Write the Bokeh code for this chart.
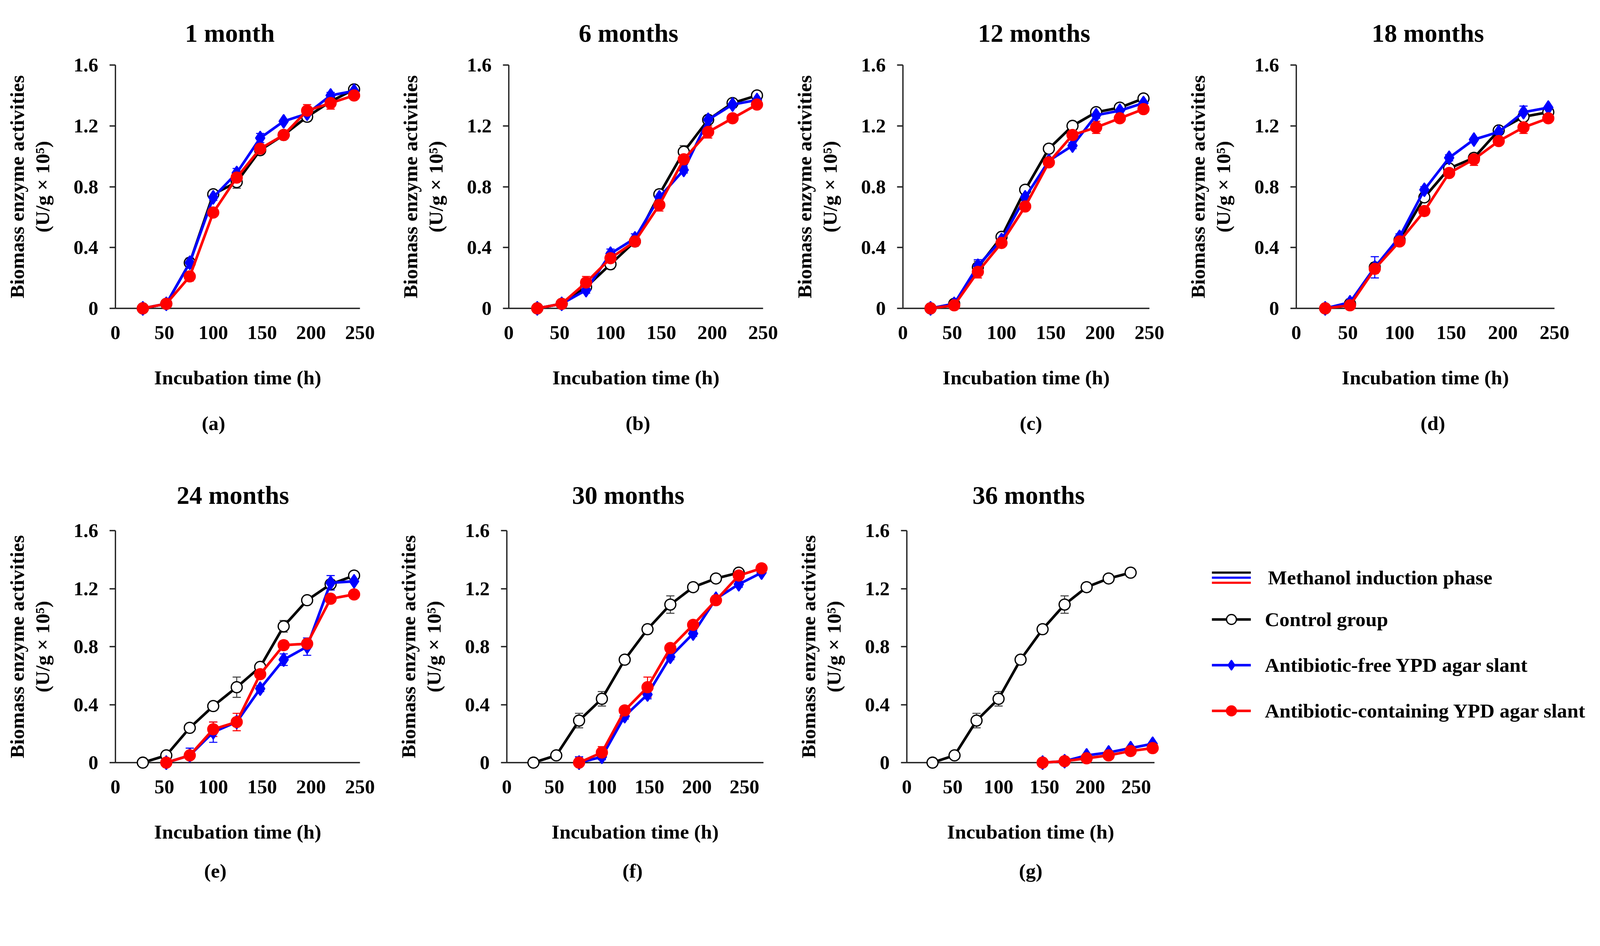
from bokeh.plotting import figure
from bokeh.models import (Range1d, FixedTicker, Whisker, TeeHead, ColumnDataSource,
                          Legend, LegendItem, Title)
from bokeh.layouts import row, column
from bokeh.embed import file_html
from bokeh.resources import INLINE

FONT = "Liberation Serif"

# ---------------- data ----------------
X_TICKS = [0, 50, 100, 150, 200, 250]
Y_TICKS = [0, 0.4, 0.8, 1.2, 1.6]
Y_TICK_LABELS = ["0", "0.4", "0.8", "1.2", "1.6"]

H_FULL = [28, 52, 76, 100, 124, 148, 172, 196, 220, 244]
H_E = [52, 76, 100, 124, 148, 172, 196, 220, 244]
H_F = [76, 100, 124, 148, 172, 196, 220, 244, 268]
H_G = [148, 172, 196, 220, 244, 268]

# (a) 1 month
A_CTRL = [0, 0.03, 0.30, 0.75, 0.83, 1.04, 1.14, 1.26, 1.36, 1.44]
A_FREE = [0, 0.03, 0.30, 0.73, 0.89, 1.12, 1.23, 1.28, 1.40, 1.43]
A_CONT = [0, 0.03, 0.21, 0.63, 0.86, 1.05, 1.14, 1.30, 1.35, 1.40]
A_CTRL_SD = [0.005, 0.01, 0.03, 0.02, 0.04, 0.02, 0.01, 0.03, 0.02, 0.01]
A_FREE_SD = [0.005, 0.01, 0.03, 0.02, 0.03, 0.03, 0.01, 0.03, 0.02, 0.01]
A_CONT_SD = [0.005, 0.01, 0.03, 0.01, 0.02, 0.02, 0.02, 0.04, 0.04, 0.02]

# (b) 6 months
B_CTRL = [0, 0.03, 0.14, 0.29, 0.44, 0.75, 1.03, 1.24, 1.35, 1.40]
B_FREE = [0, 0.03, 0.12, 0.36, 0.46, 0.73, 0.91, 1.24, 1.34, 1.37]
B_CONT = [0, 0.03, 0.17, 0.33, 0.44, 0.68, 0.98, 1.16, 1.25, 1.34]
B_CTRL_SD = [0.005, 0.01, 0.02, 0.03, 0.03, 0.03, 0.04, 0.02, 0.02, 0.01]
B_FREE_SD = [0.005, 0.01, 0.02, 0.03, 0.03, 0.03, 0.02, 0.02, 0.02, 0.01]
B_CONT_SD = [0.005, 0.01, 0.04, 0.04, 0.03, 0.04, 0.02, 0.04, 0.01, 0.01]

# (c) 12 months
C_CTRL = [0, 0.03, 0.27, 0.47, 0.78, 1.05, 1.20, 1.29, 1.32, 1.38]
C_FREE = [0, 0.03, 0.28, 0.45, 0.73, 0.97, 1.07, 1.27, 1.30, 1.35]
C_CONT = [0, 0.02, 0.24, 0.43, 0.67, 0.96, 1.14, 1.19, 1.25, 1.31]
C_CTRL_SD = [0.005, 0.01, 0.04, 0.02, 0.02, 0.01, 0.01, 0.02, 0.01, 0.01]
C_FREE_SD = [0.005, 0.02, 0.04, 0.02, 0.02, 0.02, 0.02, 0.02, 0.02, 0.01]
C_CONT_SD = [0.005, 0.01, 0.04, 0.02, 0.02, 0.02, 0.02, 0.04, 0.02, 0.02]

# (d) 18 months
D_CTRL = [0, 0.03, 0.27, 0.45, 0.73, 0.92, 0.99, 1.17, 1.26, 1.29]
D_FREE = [0, 0.04, 0.27, 0.47, 0.78, 0.99, 1.11, 1.16, 1.29, 1.32]
D_CONT = [0, 0.02, 0.26, 0.44, 0.64, 0.89, 0.98, 1.10, 1.19, 1.25]
D_CTRL_SD = [0.005, 0.01, 0.03, 0.02, 0.02, 0.02, 0.02, 0.02, 0.02, 0.01]
D_FREE_SD = [0.005, 0.02, 0.07, 0.02, 0.02, 0.02, 0.01, 0.01, 0.04, 0.01]
D_CONT_SD = [0.005, 0.01, 0.03, 0.02, 0.03, 0.02, 0.04, 0.02, 0.04, 0.02]

# (e) 24 months
E_CTRL = [0, 0.05, 0.24, 0.39, 0.52, 0.66, 0.94, 1.12, 1.23, 1.29]
E_FREE = [0, 0.05, 0.21, 0.28, 0.51, 0.71, 0.80, 1.24, 1.25]
E_CONT = [0, 0.05, 0.23, 0.28, 0.61, 0.81, 0.82, 1.13, 1.16]
E_CTRL_SD = [0.005, 0.01, 0.01, 0.03, 0.07, 0.01, 0.04, 0.01, 0.03, 0.01]
E_FREE_SD = [0.01, 0.05, 0.07, 0.02, 0.02, 0.04, 0.06, 0.05, 0.01]
E_CONT_SD = [0.005, 0.02, 0.05, 0.06, 0.02, 0.03, 0.02, 0.01, 0.01]

# (f) 30 months
F_CTRL = [0, 0.05, 0.29, 0.44, 0.71, 0.92, 1.09, 1.21, 1.27, 1.31]
F_FREE = [0, 0.04, 0.32, 0.47, 0.73, 0.89, 1.13, 1.23, 1.31]
F_CONT = [0, 0.07, 0.36, 0.52, 0.79, 0.95, 1.12, 1.29, 1.34]
F_CTRL_SD = [0.005, 0.02, 0.05, 0.05, 0.02, 0.03, 0.06, 0.03, 0.01, 0.01]
F_FREE_SD = [0.04, 0.02, 0.02, 0.03, 0.02, 0.02, 0.02, 0.02, 0.01]
F_CONT_SD = [0.03, 0.04, 0.02, 0.07, 0.02, 0.02, 0.02, 0.01, 0.01]

# (g) 36 months
G_CTRL = [0, 0.05, 0.29, 0.44, 0.71, 0.92, 1.09, 1.21, 1.27, 1.31]
G_FREE = [0, 0.01, 0.05, 0.07, 0.10, 0.13]
G_CONT = [0, 0.01, 0.03, 0.05, 0.08, 0.10]
G_CTRL_SD = [0.005, 0.02, 0.05, 0.05, 0.02, 0.03, 0.06, 0.03, 0.01, 0.01]
G_FREE_SD = [0.02, 0.01, 0.01, 0.01, 0.01, 0.01]
G_CONT_SD = [0.01, 0.01, 0.01, 0.01, 0.01, 0.01]

TITLES = ["1 month", "6 months", "12 months", "18 months", "24 months", "30 months", "36 months"]
TAGS = ["(a)", "(b)", "(c)", "(d)", "(e)", "(f)", "(g)"]
Y_LABEL = "Biomass enzyme activities\n(U/g × 10⁵)"
X_LABEL = "Incubation time (h)"

LEGEND_LABELS = ["Methanol induction phase", "Control group",
                 "Antibiotic-free YPD agar slant", "Antibiotic-containing YPD agar slant"]

BLACK, BLUE, RED = "#000000", "#0000FF", "#FF0000"

# ---------------- styling (design pixels, scaled by K) ----------------
K = 0.957


def px(v):
    return int(round(v * K))


def fs(v):
    return f"{v * K:.1f}px"


TICK_FS = 53
LABEL_FS = 54
TITLE_FS = 68
LINE_W = 7


def draw_series(p, xs, ys, sds, color, marker, fill, size, err_color):
    src = ColumnDataSource(dict(x=xs, y=ys,
                                up=[y + s for y, s in zip(ys, sds)],
                                lo=[max(y - s, 0) for y, s in zip(ys, sds)]))
    w = Whisker(source=src, base="x", upper="up", lower="lo",
                line_color=err_color, line_width=2.8 * K,
                upper_head=TeeHead(size=px(22), line_color=err_color, line_width=2.8 * K),
                lower_head=TeeHead(size=px(22), line_color=err_color, line_width=2.8 * K))
    p.add_layout(w)
    p.line("x", "y", source=src, line_color=color, line_width=LINE_W * K, level="overlay")
    p.scatter("x", "y", source=src, marker=marker, size=px(size), fill_color=fill,
              line_color=color, line_width=3.4 * K, level="overlay")


def make_panel(title, tag, x_end, w, h, bl, br, bt, bb, title_standoff, tag_standoff,
               title_left, tag_left, series):
    p = figure(width=px(w), height=px(h),
               x_range=Range1d(0, x_end), y_range=Range1d(0, 1.6),
               min_border_left=px(bl), min_border_right=px(br),
               min_border_top=px(bt), min_border_bottom=px(bb),
               output_backend="svg", toolbar_location=None)
    p.title.text = title
    p.title.align = "left"
    p.title.offset = px(title_left)
    p.title.text_font = FONT
    p.title.text_font_style = "bold"
    p.title.text_font_size = fs(TITLE_FS)
    p.title.text_color = "black"
    p.title.standoff = px(title_standoff)
    p.grid.visible = False
    p.outline_line_color = None

    xa, ya = p.xaxis[0], p.yaxis[0]
    xa.ticker = FixedTicker(ticks=X_TICKS)
    ya.ticker = FixedTicker(ticks=Y_TICKS)
    ya.major_label_overrides = {t: l for t, l in zip(Y_TICKS, Y_TICK_LABELS)}
    for ax in (xa, ya):
        ax.axis_line_width = 3.5 * K
        ax.axis_line_color = "#222222"
        ax.major_tick_line_width = 3.5 * K
        ax.major_tick_line_color = "#222222"
        ax.major_tick_in = 0
        ax.minor_tick_line_color = None
        ax.major_label_text_font = FONT
        ax.major_label_text_font_style = "bold"
        ax.major_label_text_font_size = fs(TICK_FS)
        ax.major_label_text_color = "black"
        ax.axis_label_text_font = FONT
        ax.axis_label_text_font_style = "bold"
        ax.axis_label_text_font_size = fs(LABEL_FS)
        ax.axis_label_text_color = "black"
    xa.major_tick_out = 0
    ya.major_tick_out = px(16)
    xa.major_label_standoff = px(47)
    ya.major_label_standoff = px(30)
    xa.axis_label = X_LABEL
    xa.axis_label_standoff = px(70)
    ya.axis_label = Y_LABEL
    ya.axis_label_standoff = px(50)
    ya.axis_label_text_line_height = 1.15

    tt = Title(text=tag, align="left", offset=px(tag_left), text_font=FONT,
               text_font_style="bold", text_font_size=fs(LABEL_FS), text_color="black",
               standoff=px(tag_standoff))
    p.add_layout(tt, "below")

    (hc, yc, sc), (hf, yf, sf), (hr, yr, sr) = series
    draw_series(p, hc, yc, sc, BLACK, "circle", "white", 29, "#444444")
    draw_series(p, hf, yf, sf, BLUE, "diamond", BLUE, 37, BLUE)
    draw_series(p, hr, yr, sr, RED, "circle", RED, 29, RED)
    return p


TOP_H, TOP_B, TOP_FRAME_H = 1227, 173, 652
BOT_H, BOT_B, BOT_FRAME_H = 1179, 192, 621


def panel(i, x_end, w, h, bl, fw, bt, frame_h, title_so, tag_so, title_left, tag_left, series):
    return make_panel(TITLES[i], TAGS[i], x_end, w, h, bl, w - bl - fw, bt, h - bt - frame_h,
                      title_so, tag_so, title_left, tag_left, series)


pa = panel(0, 250, 1042, TOP_H, 308, 655, TOP_B, TOP_FRAME_H, 96, 116, 186, 231,
           [(H_FULL, A_CTRL, A_CTRL_SD), (H_FULL, A_FREE, A_FREE_SD), (H_FULL, A_CONT, A_CONT_SD)])
pb = panel(1, 250, 1060, TOP_H, 319, 680, TOP_B, TOP_FRAME_H, 96, 116, 187, 312,
           [(H_FULL, B_CTRL, B_CTRL_SD), (H_FULL, B_FREE, B_FREE_SD), (H_FULL, B_CONT, B_CONT_SD)])
pc = panel(2, 250, 1050, TOP_H, 313, 660, TOP_B, TOP_FRAME_H, 96, 116, 201, 312,
           [(H_FULL, C_CTRL, C_CTRL_SD), (H_FULL, C_FREE, C_FREE_SD), (H_FULL, C_CONT, C_CONT_SD)])
pd = panel(3, 250, 1123, TOP_H, 316, 690, TOP_B, TOP_FRAME_H, 96, 116, 202, 332,
           [(H_FULL, D_CTRL, D_CTRL_SD), (H_FULL, D_FREE, D_FREE_SD), (H_FULL, D_CONT, D_CONT_SD)])
pe = panel(4, 250, 1042, BOT_H, 308, 655, BOT_B, BOT_FRAME_H, 114, 80, 164, 237,
           [(H_FULL, E_CTRL, E_CTRL_SD), (H_E, E_FREE, E_FREE_SD), (H_E, E_CONT, E_CONT_SD)])
pf = panel(5, 270, 1060, BOT_H, 314, 686, BOT_B, BOT_FRAME_H, 114, 80, 175, 309,
           [(H_FULL, F_CTRL, F_CTRL_SD), (H_F, F_FREE, F_FREE_SD), (H_F, F_CONT, F_CONT_SD)])
pg = panel(6, 270, 1050, BOT_H, 324, 662, BOT_B, BOT_FRAME_H, 114, 80, 176, 300,
           [(H_FULL, G_CTRL, G_CTRL_SD), (H_G, G_FREE, G_FREE_SD), (H_G, G_CONT, G_CONT_SD)])

# ---------------- legend panel (its frame lines up with row 2 frames) ----------------
LG_W = 1123
lg = figure(width=px(LG_W), height=px(BOT_H), x_range=Range1d(0, 1), y_range=Range1d(0, 1),
            min_border_left=0, min_border_right=0,
            min_border_top=px(BOT_B), min_border_bottom=px(BOT_H - BOT_B - BOT_FRAME_H),
            x_axis_location=None, y_axis_location=None,
            output_backend="svg", toolbar_location=None)
lg.grid.visible = False
lg.outline_line_color = None

# legend-only renderers: they carry the (g) series but lie outside this panel's ranges
k_line = lg.line(x=H_FULL, y=G_CTRL, line_color=BLACK, line_width=LINE_W * K * 0.8)
b_line = lg.line(x=H_G, y=G_FREE, line_color=BLUE, line_width=LINE_W * K * 0.8)
r_line = lg.line(x=H_G, y=G_CONT, line_color=RED, line_width=LINE_W * K * 0.8)
c_line = lg.line(x=H_FULL, y=G_CTRL, line_color=BLACK, line_width=LINE_W * K)
c_pt = lg.scatter(x=H_FULL, y=G_CTRL, marker="circle", fill_color="white", line_color=BLACK,
                  line_width=3.4 * K)
f_line = lg.line(x=H_G, y=G_FREE, line_color=BLUE, line_width=LINE_W * K)
f_pt = lg.scatter(x=H_G, y=G_FREE, marker="diamond", fill_color=BLUE, line_color=BLUE,
                  line_width=3.4 * K)
x_line = lg.line(x=H_G, y=G_CONT, line_color=RED, line_width=LINE_W * K)
x_pt = lg.scatter(x=H_G, y=G_CONT, marker="circle", fill_color=RED, line_color=RED,
                  line_width=3.4 * K)


def style_legend(L, size, gh, standoff, spacing=0):
    L.padding = 0
    L.margin = 0
    L.border_line_color = None
    L.background_fill_alpha = 0
    L.glyph_width = px(104)
    L.glyph_height = px(gh)
    L.label_height = px(gh)
    L.label_standoff = px(standoff)
    L.spacing = px(spacing)
    L.label_text_font = FONT
    L.label_text_font_style = "bold"
    L.label_text_font_size = size
    L.label_text_color = "black"
    L.label_text_baseline = "middle"


# offsets measured upward from the bottom of the legend panel's frame
LX = 90
L_black = Legend(items=[LegendItem(label=" ", renderers=[k_line])], location=(px(LX), px(502)))
style_legend(L_black, "8px", 14, 46)
L_red = Legend(items=[LegendItem(label=" ", renderers=[r_line])], location=(px(LX), px(474)))
style_legend(L_red, "8px", 14, 46)
L_blue = Legend(items=[LegendItem(label=LEGEND_LABELS[0], renderers=[b_line])],
                location=(px(LX), px(462)))
style_legend(L_blue, fs(LABEL_FS), 66, 46)
L_main = Legend(items=[LegendItem(label=LEGEND_LABELS[1], renderers=[c_line, c_pt]),
                       LegendItem(label=LEGEND_LABELS[2], renderers=[f_line, f_pt]),
                       LegendItem(label=LEGEND_LABELS[3], renderers=[x_line, x_pt])],
                location=(px(LX), px(106)))
style_legend(L_main, fs(LABEL_FS), 66, 38, spacing=56)
for L in (L_black, L_red, L_blue, L_main):
    lg.add_layout(L)

layout = column(row(pa, pb, pc, pd), row(pe, pf, pg, lg))

open("out.html", "w").write(file_html(layout, INLINE))
